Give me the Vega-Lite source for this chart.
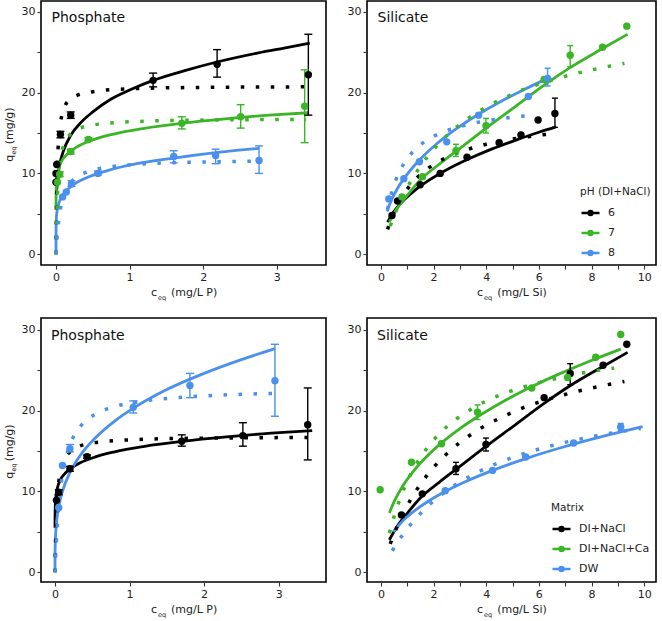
{
"$schema": "https://vega.github.io/schema/vega-lite/v6.json",
"padding": {"left": 2, "top": 0, "right": 2, "bottom": 0},
"datasets": {
"pts": [
{"p":"P1","s":"6","x":0.0,"y":8.9},{"p":"P1","s":"6","x":0.0,"y":10.0},{"p":"P1","s":"6","x":0.01,"y":11.1},
{"p":"P1","s":"6","x":0.06,"y":14.8,"lo":14.4,"hi":15.2},{"p":"P1","s":"6","x":0.2,"y":17.2,"lo":16.8,"hi":17.6},
{"p":"P1","s":"6","x":1.32,"y":21.5,"lo":20.7,"hi":22.4},{"p":"P1","s":"6","x":2.19,"y":23.5,"lo":21.9,"hi":25.3},
{"p":"P1","s":"6","x":3.43,"y":22.2,"lo":17.2,"hi":27.2},
{"p":"P1","s":"7","x":0.02,"y":8.9},{"p":"P1","s":"7","x":0.05,"y":9.9,"lo":9.6,"hi":10.2},
{"p":"P1","s":"7","x":0.2,"y":12.7,"lo":12.4,"hi":13.0},{"p":"P1","s":"7","x":0.44,"y":14.2,"lo":14.0,"hi":14.4},
{"p":"P1","s":"7","x":1.71,"y":16.2,"lo":15.5,"hi":17.0},{"p":"P1","s":"7","x":2.51,"y":17.0,"lo":15.6,"hi":18.5},
{"p":"P1","s":"7","x":3.38,"y":18.3,"lo":13.8,"hi":22.8},
{"p":"P1","s":"8","x":0.09,"y":7.1},{"p":"P1","s":"8","x":0.14,"y":7.7},{"p":"P1","s":"8","x":0.21,"y":8.7,"lo":8.4,"hi":9.1},
{"p":"P1","s":"8","x":0.57,"y":10.0,"lo":9.8,"hi":10.3},{"p":"P1","s":"8","x":1.6,"y":12.1,"lo":11.3,"hi":12.8},
{"p":"P1","s":"8","x":2.17,"y":12.2,"lo":11.2,"hi":13.0},{"p":"P1","s":"8","x":2.76,"y":11.6,"lo":10.0,"hi":13.4},
{"p":"P2","s":"6","x":0.42,"y":4.8},{"p":"P2","s":"6","x":0.63,"y":6.6},{"p":"P2","s":"6","x":1.49,"y":8.6},
{"p":"P2","s":"6","x":2.25,"y":10.0},{"p":"P2","s":"6","x":3.27,"y":12.0},{"p":"P2","s":"6","x":4.49,"y":13.8},
{"p":"P2","s":"6","x":5.32,"y":14.75},{"p":"P2","s":"6","x":5.97,"y":16.6},{"p":"P2","s":"6","x":6.61,"y":17.4,"lo":15.7,"hi":19.3},
{"p":"P2","s":"7","x":0.8,"y":7.1},{"p":"P2","s":"7","x":1.58,"y":9.6},{"p":"P2","s":"7","x":2.85,"y":12.8,"lo":12.1,"hi":13.6},
{"p":"P2","s":"7","x":3.99,"y":15.9,"lo":15.0,"hi":16.8},{"p":"P2","s":"7","x":6.2,"y":21.6},
{"p":"P2","s":"7","x":7.19,"y":24.6,"lo":23.2,"hi":25.8},{"p":"P2","s":"7","x":8.42,"y":25.6},{"p":"P2","s":"7","x":9.34,"y":28.2},
{"p":"P2","s":"8","x":0.3,"y":6.85},{"p":"P2","s":"8","x":0.87,"y":9.35},{"p":"P2","s":"8","x":1.46,"y":11.45},
{"p":"P2","s":"8","x":2.5,"y":13.9},{"p":"P2","s":"8","x":3.71,"y":17.2},{"p":"P2","s":"8","x":5.6,"y":19.5},
{"p":"P2","s":"8","x":6.33,"y":21.75,"lo":20.8,"hi":23.0},
{"p":"P3","s":"DI+NaCl","x":0.02,"y":8.9},{"p":"P3","s":"DI+NaCl","x":0.05,"y":9.9,"lo":9.6,"hi":10.2},
{"p":"P3","s":"DI+NaCl","x":0.2,"y":12.8,"lo":12.5,"hi":13.1},{"p":"P3","s":"DI+NaCl","x":0.43,"y":14.3,"lo":14.1,"hi":14.5},
{"p":"P3","s":"DI+NaCl","x":1.7,"y":16.2,"lo":15.6,"hi":17.0},{"p":"P3","s":"DI+NaCl","x":2.52,"y":16.9,"lo":15.6,"hi":18.5},
{"p":"P3","s":"DI+NaCl","x":3.39,"y":18.25,"lo":13.9,"hi":22.8},
{"p":"P3","s":"DW","x":0.05,"y":8.0},{"p":"P3","s":"DW","x":0.1,"y":13.2},{"p":"P3","s":"DW","x":0.2,"y":15.3,"lo":14.9,"hi":15.8},
{"p":"P3","s":"DW","x":1.05,"y":20.4,"lo":19.7,"hi":21.2},{"p":"P3","s":"DW","x":1.81,"y":23.1,"lo":21.6,"hi":24.6},
{"p":"P3","s":"DW","x":2.95,"y":23.7,"lo":19.3,"hi":28.2},
{"p":"P4","s":"DI+NaCl","x":0.78,"y":7.1},{"p":"P4","s":"DI+NaCl","x":1.57,"y":9.7},{"p":"P4","s":"DI+NaCl","x":2.85,"y":12.8,"lo":12.1,"hi":13.6},
{"p":"P4","s":"DI+NaCl","x":3.99,"y":15.8,"lo":15.0,"hi":16.6},{"p":"P4","s":"DI+NaCl","x":6.2,"y":21.6},
{"p":"P4","s":"DI+NaCl","x":7.19,"y":24.6,"lo":23.2,"hi":25.8},{"p":"P4","s":"DI+NaCl","x":8.44,"y":25.6},{"p":"P4","s":"DI+NaCl","x":9.34,"y":28.2},
{"p":"P4","s":"DI+NaCl+Ca","x":-0.03,"y":10.2},{"p":"P4","s":"DI+NaCl+Ca","x":1.16,"y":13.6},{"p":"P4","s":"DI+NaCl+Ca","x":2.3,"y":15.9},
{"p":"P4","s":"DI+NaCl+Ca","x":3.67,"y":19.8,"lo":18.9,"hi":20.7},{"p":"P4","s":"DI+NaCl+Ca","x":5.73,"y":22.8},
{"p":"P4","s":"DI+NaCl+Ca","x":7.09,"y":24.1},{"p":"P4","s":"DI+NaCl+Ca","x":8.16,"y":26.6},{"p":"P4","s":"DI+NaCl+Ca","x":9.11,"y":29.4},
{"p":"P4","s":"DW","x":2.44,"y":10.1},{"p":"P4","s":"DW","x":4.24,"y":12.6},{"p":"P4","s":"DW","x":5.5,"y":14.25},
{"p":"P4","s":"DW","x":7.32,"y":16.0},{"p":"P4","s":"DW","x":9.11,"y":17.96,"lo":17.5,"hi":18.4}
],
"fits": [
{"p":"P1","s":"6","t":"F","x":0.01,"y":8.0},{"p":"P1","s":"6","t":"F","x":0.02,"y":9.2},{"p":"P1","s":"6","t":"F","x":0.05,"y":11.1},
{"p":"P1","s":"6","t":"F","x":0.1,"y":12.75},{"p":"P1","s":"6","t":"F","x":0.2,"y":14.7},{"p":"P1","s":"6","t":"F","x":0.35,"y":16.4},
{"p":"P1","s":"6","t":"F","x":0.5,"y":17.6},{"p":"P1","s":"6","t":"F","x":0.75,"y":19.2},{"p":"P1","s":"6","t":"F","x":1.0,"y":20.3},
{"p":"P1","s":"6","t":"F","x":1.32,"y":21.5},{"p":"P1","s":"6","t":"F","x":1.75,"y":22.7},{"p":"P1","s":"6","t":"F","x":2.2,"y":23.8},
{"p":"P1","s":"6","t":"F","x":2.75,"y":24.9},{"p":"P1","s":"6","t":"F","x":3.1,"y":25.5},{"p":"P1","s":"6","t":"F","x":3.45,"y":26.1},
{"p":"P1","s":"6","t":"L","x":0,"y":0},{"p":"P1","s":"6","t":"L","x":0.005,"y":4.8},{"p":"P1","s":"6","t":"L","x":0.01,"y":7.8},
{"p":"P1","s":"6","t":"L","x":0.02,"y":11.35},{"p":"P1","s":"6","t":"L","x":0.035,"y":14.1},{"p":"P1","s":"6","t":"L","x":0.05,"y":15.6},
{"p":"P1","s":"6","t":"L","x":0.08,"y":17.2},{"p":"P1","s":"6","t":"L","x":0.12,"y":18.3},{"p":"P1","s":"6","t":"L","x":0.2,"y":19.2},
{"p":"P1","s":"6","t":"L","x":0.3,"y":19.7},{"p":"P1","s":"6","t":"L","x":0.5,"y":20.1},{"p":"P1","s":"6","t":"L","x":1.0,"y":20.46},
{"p":"P1","s":"6","t":"L","x":2.0,"y":20.63},{"p":"P1","s":"6","t":"L","x":3.4,"y":20.7},
{"p":"P1","s":"7","t":"F","x":0.0001,"y":5.5},{"p":"P1","s":"7","t":"F","x":0.0005,"y":6.57},{"p":"P1","s":"7","t":"F","x":0.001,"y":7.1},
{"p":"P1","s":"7","t":"F","x":0.003,"y":8.0},{"p":"P1","s":"7","t":"F","x":0.01,"y":9.16},{"p":"P1","s":"7","t":"F","x":0.03,"y":10.35},
{"p":"P1","s":"7","t":"F","x":0.07,"y":11.4},{"p":"P1","s":"7","t":"F","x":0.15,"y":12.37},{"p":"P1","s":"7","t":"F","x":0.3,"y":13.36},
{"p":"P1","s":"7","t":"F","x":0.5,"y":14.14},{"p":"P1","s":"7","t":"F","x":0.8,"y":14.9},{"p":"P1","s":"7","t":"F","x":1.2,"y":15.58},
{"p":"P1","s":"7","t":"F","x":1.71,"y":16.2},{"p":"P1","s":"7","t":"F","x":2.3,"y":16.75},{"p":"P1","s":"7","t":"F","x":2.9,"y":17.2},
{"p":"P1","s":"7","t":"F","x":3.43,"y":17.5},
{"p":"P1","s":"7","t":"L","x":0,"y":0},{"p":"P1","s":"7","t":"L","x":0.003,"y":1.76},{"p":"P1","s":"7","t":"L","x":0.008,"y":4.0},
{"p":"P1","s":"7","t":"L","x":0.015,"y":6.2},{"p":"P1","s":"7","t":"L","x":0.025,"y":8.3},{"p":"P1","s":"7","t":"L","x":0.04,"y":10.24},
{"p":"P1","s":"7","t":"L","x":0.07,"y":12.3},{"p":"P1","s":"7","t":"L","x":0.12,"y":13.84},{"p":"P1","s":"7","t":"L","x":0.2,"y":14.9},
{"p":"P1","s":"7","t":"L","x":0.3,"y":15.5},{"p":"P1","s":"7","t":"L","x":0.45,"y":15.9},{"p":"P1","s":"7","t":"L","x":0.7,"y":16.2},
{"p":"P1","s":"7","t":"L","x":1.2,"y":16.45},{"p":"P1","s":"7","t":"L","x":2.0,"y":16.59},{"p":"P1","s":"7","t":"L","x":3.4,"y":16.67},
{"p":"P1","s":"8","t":"F","x":0,"y":0},{"p":"P1","s":"8","t":"F","x":0.00001,"y":1.54},{"p":"P1","s":"8","t":"F","x":0.0001,"y":2.28},
{"p":"P1","s":"8","t":"F","x":0.001,"y":3.38},{"p":"P1","s":"8","t":"F","x":0.005,"y":4.44},{"p":"P1","s":"8","t":"F","x":0.015,"y":5.37},
{"p":"P1","s":"8","t":"F","x":0.04,"y":6.35},{"p":"P1","s":"8","t":"F","x":0.09,"y":7.3},{"p":"P1","s":"8","t":"F","x":0.2,"y":8.35},
{"p":"P1","s":"8","t":"F","x":0.4,"y":9.4},{"p":"P1","s":"8","t":"F","x":0.7,"y":10.35},{"p":"P1","s":"8","t":"F","x":1.1,"y":11.2},
{"p":"P1","s":"8","t":"F","x":1.6,"y":11.9},{"p":"P1","s":"8","t":"F","x":2.2,"y":12.6},{"p":"P1","s":"8","t":"F","x":2.76,"y":13.1},
{"p":"P1","s":"8","t":"L","x":0,"y":0},{"p":"P1","s":"8","t":"L","x":0.005,"y":0.82},{"p":"P1","s":"8","t":"L","x":0.012,"y":1.8},
{"p":"P1","s":"8","t":"L","x":0.025,"y":3.2},{"p":"P1","s":"8","t":"L","x":0.04,"y":4.4},{"p":"P1","s":"8","t":"L","x":0.06,"y":5.6},
{"p":"P1","s":"8","t":"L","x":0.09,"y":6.8},{"p":"P1","s":"8","t":"L","x":0.13,"y":7.8},{"p":"P1","s":"8","t":"L","x":0.2,"y":8.85},
{"p":"P1","s":"8","t":"L","x":0.3,"y":9.65},{"p":"P1","s":"8","t":"L","x":0.45,"y":10.28},{"p":"P1","s":"8","t":"L","x":0.7,"y":10.77},
{"p":"P1","s":"8","t":"L","x":1.1,"y":11.13},{"p":"P1","s":"8","t":"L","x":1.6,"y":11.33},{"p":"P1","s":"8","t":"L","x":2.2,"y":11.45},
{"p":"P1","s":"8","t":"L","x":2.75,"y":11.52},
{"p":"P2","s":"6","t":"F","x":0.25,"y":3.97},{"p":"P2","s":"6","t":"F","x":0.4,"y":4.84},{"p":"P2","s":"6","t":"F","x":0.6,"y":5.74},
{"p":"P2","s":"6","t":"F","x":0.9,"y":6.8},{"p":"P2","s":"6","t":"F","x":1.3,"y":7.94},{"p":"P2","s":"6","t":"F","x":1.8,"y":9.1},
{"p":"P2","s":"6","t":"F","x":2.5,"y":10.45},{"p":"P2","s":"6","t":"F","x":3.3,"y":11.74},{"p":"P2","s":"6","t":"F","x":4.2,"y":13.0},
{"p":"P2","s":"6","t":"F","x":5.2,"y":14.2},{"p":"P2","s":"6","t":"F","x":6.0,"y":15.09},{"p":"P2","s":"6","t":"F","x":6.65,"y":15.75},
{"p":"P2","s":"6","t":"L","x":0.25,"y":3.08},{"p":"P2","s":"6","t":"L","x":0.5,"y":5.25},{"p":"P2","s":"6","t":"L","x":0.8,"y":7.12},
{"p":"P2","s":"6","t":"L","x":1.1,"y":8.5},{"p":"P2","s":"6","t":"L","x":1.5,"y":9.86},{"p":"P2","s":"6","t":"L","x":2.0,"y":11.08},
{"p":"P2","s":"6","t":"L","x":2.6,"y":12.12},{"p":"P2","s":"6","t":"L","x":3.3,"y":12.97},{"p":"P2","s":"6","t":"L","x":4.0,"y":13.6},
{"p":"P2","s":"6","t":"L","x":4.8,"y":14.13},{"p":"P2","s":"6","t":"L","x":5.6,"y":14.54},{"p":"P2","s":"6","t":"L","x":6.3,"y":14.83},
{"p":"P2","s":"7","t":"F","x":0.32,"y":4.0},{"p":"P2","s":"7","t":"F","x":0.6,"y":5.6},{"p":"P2","s":"7","t":"F","x":1.0,"y":7.3},
{"p":"P2","s":"7","t":"F","x":1.56,"y":9.4},{"p":"P2","s":"7","t":"F","x":2.2,"y":11.1},{"p":"P2","s":"7","t":"F","x":3.0,"y":13.1},
{"p":"P2","s":"7","t":"F","x":4.0,"y":15.6},{"p":"P2","s":"7","t":"F","x":5.0,"y":18.0},{"p":"P2","s":"7","t":"F","x":6.2,"y":20.9},
{"p":"P2","s":"7","t":"F","x":7.2,"y":23.1},{"p":"P2","s":"7","t":"F","x":8.4,"y":25.4},{"p":"P2","s":"7","t":"F","x":9.37,"y":27.2},
{"p":"P2","s":"7","t":"L","x":0.35,"y":3.5},{"p":"P2","s":"7","t":"L","x":0.55,"y":5.16},{"p":"P2","s":"7","t":"L","x":0.8,"y":6.97},
{"p":"P2","s":"7","t":"L","x":1.1,"y":8.82},{"p":"P2","s":"7","t":"L","x":1.5,"y":10.89},{"p":"P2","s":"7","t":"L","x":2.0,"y":12.97},
{"p":"P2","s":"7","t":"L","x":2.6,"y":14.96},{"p":"P2","s":"7","t":"L","x":3.3,"y":16.77},{"p":"P2","s":"7","t":"L","x":4.0,"y":18.2},
{"p":"P2","s":"7","t":"L","x":4.8,"y":19.5},{"p":"P2","s":"7","t":"L","x":5.6,"y":20.6},{"p":"P2","s":"7","t":"L","x":6.5,"y":21.54},
{"p":"P2","s":"7","t":"L","x":7.4,"y":22.34},{"p":"P2","s":"7","t":"L","x":8.3,"y":23.0},{"p":"P2","s":"7","t":"L","x":9.25,"y":23.6},
{"p":"P2","s":"8","t":"F","x":0.23,"y":5.3},{"p":"P2","s":"8","t":"F","x":0.4,"y":6.71},{"p":"P2","s":"8","t":"F","x":0.65,"y":8.25},
{"p":"P2","s":"8","t":"F","x":1.0,"y":9.91},{"p":"P2","s":"8","t":"F","x":1.5,"y":11.78},{"p":"P2","s":"8","t":"F","x":2.1,"y":13.6},
{"p":"P2","s":"8","t":"F","x":2.8,"y":15.37},{"p":"P2","s":"8","t":"F","x":3.6,"y":17.1},{"p":"P2","s":"8","t":"F","x":4.5,"y":18.8},
{"p":"P2","s":"8","t":"F","x":5.4,"y":20.3},{"p":"P2","s":"8","t":"F","x":6.33,"y":21.75},
{"p":"P2","s":"8","t":"L","x":0.25,"y":5.55},{"p":"P2","s":"8","t":"L","x":0.4,"y":7.55},{"p":"P2","s":"8","t":"L","x":0.55,"y":9.04},
{"p":"P2","s":"8","t":"L","x":0.75,"y":10.5},{"p":"P2","s":"8","t":"L","x":1.0,"y":11.83},{"p":"P2","s":"8","t":"L","x":1.3,"y":12.96},
{"p":"P2","s":"8","t":"L","x":1.7,"y":14.0},{"p":"P2","s":"8","t":"L","x":2.2,"y":14.9},{"p":"P2","s":"8","t":"L","x":2.8,"y":15.6},
{"p":"P2","s":"8","t":"L","x":3.5,"y":16.2},{"p":"P2","s":"8","t":"L","x":4.3,"y":16.65},{"p":"P2","s":"8","t":"L","x":5.1,"y":16.98},
{"p":"P2","s":"8","t":"L","x":5.85,"y":17.2},
{"p":"P3","s":"DI+NaCl","t":"F","x":0.0001,"y":5.5},{"p":"P3","s":"DI+NaCl","t":"F","x":0.0005,"y":6.57},{"p":"P3","s":"DI+NaCl","t":"F","x":0.001,"y":7.1},
{"p":"P3","s":"DI+NaCl","t":"F","x":0.003,"y":8.0},{"p":"P3","s":"DI+NaCl","t":"F","x":0.01,"y":9.16},{"p":"P3","s":"DI+NaCl","t":"F","x":0.03,"y":10.35},
{"p":"P3","s":"DI+NaCl","t":"F","x":0.07,"y":11.4},{"p":"P3","s":"DI+NaCl","t":"F","x":0.15,"y":12.37},{"p":"P3","s":"DI+NaCl","t":"F","x":0.3,"y":13.36},
{"p":"P3","s":"DI+NaCl","t":"F","x":0.5,"y":14.14},{"p":"P3","s":"DI+NaCl","t":"F","x":0.8,"y":14.9},{"p":"P3","s":"DI+NaCl","t":"F","x":1.2,"y":15.58},
{"p":"P3","s":"DI+NaCl","t":"F","x":1.71,"y":16.2},{"p":"P3","s":"DI+NaCl","t":"F","x":2.3,"y":16.75},{"p":"P3","s":"DI+NaCl","t":"F","x":2.9,"y":17.2},
{"p":"P3","s":"DI+NaCl","t":"F","x":3.45,"y":17.52},
{"p":"P3","s":"DI+NaCl","t":"L","x":0,"y":0},{"p":"P3","s":"DI+NaCl","t":"L","x":0.003,"y":1.76},{"p":"P3","s":"DI+NaCl","t":"L","x":0.008,"y":4.0},
{"p":"P3","s":"DI+NaCl","t":"L","x":0.015,"y":6.2},{"p":"P3","s":"DI+NaCl","t":"L","x":0.025,"y":8.3},{"p":"P3","s":"DI+NaCl","t":"L","x":0.04,"y":10.24},
{"p":"P3","s":"DI+NaCl","t":"L","x":0.07,"y":12.3},{"p":"P3","s":"DI+NaCl","t":"L","x":0.12,"y":13.84},{"p":"P3","s":"DI+NaCl","t":"L","x":0.2,"y":14.9},
{"p":"P3","s":"DI+NaCl","t":"L","x":0.3,"y":15.5},{"p":"P3","s":"DI+NaCl","t":"L","x":0.45,"y":15.9},{"p":"P3","s":"DI+NaCl","t":"L","x":0.7,"y":16.2},
{"p":"P3","s":"DI+NaCl","t":"L","x":1.2,"y":16.45},{"p":"P3","s":"DI+NaCl","t":"L","x":2.0,"y":16.59},{"p":"P3","s":"DI+NaCl","t":"L","x":3.45,"y":16.67},
{"p":"P3","s":"DW","t":"F","x":0,"y":0},{"p":"P3","s":"DW","t":"F","x":0.0001,"y":1.26},{"p":"P3","s":"DW","t":"F","x":0.001,"y":2.52},
{"p":"P3","s":"DW","t":"F","x":0.004,"y":3.82},{"p":"P3","s":"DW","t":"F","x":0.01,"y":5.02},{"p":"P3","s":"DW","t":"F","x":0.025,"y":6.62},
{"p":"P3","s":"DW","t":"F","x":0.05,"y":8.14},{"p":"P3","s":"DW","t":"F","x":0.1,"y":10.02},{"p":"P3","s":"DW","t":"F","x":0.2,"y":12.34},
{"p":"P3","s":"DW","t":"F","x":0.35,"y":14.6},{"p":"P3","s":"DW","t":"F","x":0.55,"y":16.7},{"p":"P3","s":"DW","t":"F","x":0.8,"y":18.7},
{"p":"P3","s":"DW","t":"F","x":1.1,"y":20.58},{"p":"P3","s":"DW","t":"F","x":1.5,"y":22.6},{"p":"P3","s":"DW","t":"F","x":2.0,"y":24.6},
{"p":"P3","s":"DW","t":"F","x":2.5,"y":26.3},{"p":"P3","s":"DW","t":"F","x":2.95,"y":27.66},
{"p":"P3","s":"DW","t":"L","x":0,"y":0},{"p":"P3","s":"DW","t":"L","x":0.002,"y":0.5},{"p":"P3","s":"DW","t":"L","x":0.008,"y":1.87},
{"p":"P3","s":"DW","t":"L","x":0.015,"y":3.28},{"p":"P3","s":"DW","t":"L","x":0.025,"y":4.99},{"p":"P3","s":"DW","t":"L","x":0.04,"y":7.05},
{"p":"P3","s":"DW","t":"L","x":0.06,"y":9.16},{"p":"P3","s":"DW","t":"L","x":0.09,"y":11.44},{"p":"P3","s":"DW","t":"L","x":0.13,"y":13.52},
{"p":"P3","s":"DW","t":"L","x":0.19,"y":15.5},{"p":"P3","s":"DW","t":"L","x":0.27,"y":17.15},{"p":"P3","s":"DW","t":"L","x":0.38,"y":18.46},
{"p":"P3","s":"DW","t":"L","x":0.55,"y":19.6},{"p":"P3","s":"DW","t":"L","x":0.8,"y":20.5},{"p":"P3","s":"DW","t":"L","x":1.2,"y":21.2},
{"p":"P3","s":"DW","t":"L","x":1.8,"y":21.7},{"p":"P3","s":"DW","t":"L","x":2.4,"y":21.98},{"p":"P3","s":"DW","t":"L","x":2.95,"y":22.13},
{"p":"P4","s":"DI+NaCl","t":"F","x":0.32,"y":4.0},{"p":"P4","s":"DI+NaCl","t":"F","x":0.6,"y":5.6},{"p":"P4","s":"DI+NaCl","t":"F","x":1.0,"y":7.3},
{"p":"P4","s":"DI+NaCl","t":"F","x":1.56,"y":9.4},{"p":"P4","s":"DI+NaCl","t":"F","x":2.2,"y":11.1},{"p":"P4","s":"DI+NaCl","t":"F","x":3.0,"y":13.1},
{"p":"P4","s":"DI+NaCl","t":"F","x":4.0,"y":15.6},{"p":"P4","s":"DI+NaCl","t":"F","x":5.0,"y":18.0},{"p":"P4","s":"DI+NaCl","t":"F","x":6.2,"y":20.9},
{"p":"P4","s":"DI+NaCl","t":"F","x":7.2,"y":23.1},{"p":"P4","s":"DI+NaCl","t":"F","x":8.4,"y":25.4},{"p":"P4","s":"DI+NaCl","t":"F","x":9.37,"y":27.2},
{"p":"P4","s":"DI+NaCl","t":"L","x":0.35,"y":3.5},{"p":"P4","s":"DI+NaCl","t":"L","x":0.55,"y":5.16},{"p":"P4","s":"DI+NaCl","t":"L","x":0.8,"y":6.97},
{"p":"P4","s":"DI+NaCl","t":"L","x":1.1,"y":8.82},{"p":"P4","s":"DI+NaCl","t":"L","x":1.5,"y":10.89},{"p":"P4","s":"DI+NaCl","t":"L","x":2.0,"y":12.97},
{"p":"P4","s":"DI+NaCl","t":"L","x":2.6,"y":14.96},{"p":"P4","s":"DI+NaCl","t":"L","x":3.3,"y":16.77},{"p":"P4","s":"DI+NaCl","t":"L","x":4.0,"y":18.2},
{"p":"P4","s":"DI+NaCl","t":"L","x":4.8,"y":19.5},{"p":"P4","s":"DI+NaCl","t":"L","x":5.6,"y":20.6},{"p":"P4","s":"DI+NaCl","t":"L","x":6.5,"y":21.54},
{"p":"P4","s":"DI+NaCl","t":"L","x":7.4,"y":22.34},{"p":"P4","s":"DI+NaCl","t":"L","x":8.3,"y":23.0},{"p":"P4","s":"DI+NaCl","t":"L","x":9.25,"y":23.6},
{"p":"P4","s":"DI+NaCl+Ca","t":"F","x":0.32,"y":7.33},{"p":"P4","s":"DI+NaCl+Ca","t":"F","x":0.5,"y":8.74},{"p":"P4","s":"DI+NaCl+Ca","t":"F","x":0.8,"y":10.53},
{"p":"P4","s":"DI+NaCl+Ca","t":"F","x":1.2,"y":12.36},{"p":"P4","s":"DI+NaCl+Ca","t":"F","x":1.7,"y":14.19},{"p":"P4","s":"DI+NaCl+Ca","t":"F","x":2.3,"y":16.0},
{"p":"P4","s":"DI+NaCl+Ca","t":"F","x":3.0,"y":17.77},{"p":"P4","s":"DI+NaCl+Ca","t":"F","x":3.9,"y":19.7},{"p":"P4","s":"DI+NaCl+Ca","t":"F","x":4.8,"y":21.4},
{"p":"P4","s":"DI+NaCl+Ca","t":"F","x":5.8,"y":23.07},{"p":"P4","s":"DI+NaCl+Ca","t":"F","x":6.8,"y":24.57},{"p":"P4","s":"DI+NaCl+Ca","t":"F","x":7.9,"y":26.07},
{"p":"P4","s":"DI+NaCl+Ca","t":"F","x":9.11,"y":27.6},
{"p":"P4","s":"DI+NaCl+Ca","t":"L","x":0.32,"y":4.83},{"p":"P4","s":"DI+NaCl+Ca","t":"L","x":0.5,"y":6.92},{"p":"P4","s":"DI+NaCl+Ca","t":"L","x":0.75,"y":9.31},
{"p":"P4","s":"DI+NaCl+Ca","t":"L","x":1.05,"y":11.6},{"p":"P4","s":"DI+NaCl+Ca","t":"L","x":1.4,"y":13.7},{"p":"P4","s":"DI+NaCl+Ca","t":"L","x":1.8,"y":15.58},
{"p":"P4","s":"DI+NaCl+Ca","t":"L","x":2.3,"y":17.4},{"p":"P4","s":"DI+NaCl+Ca","t":"L","x":2.9,"y":19.05},{"p":"P4","s":"DI+NaCl+Ca","t":"L","x":3.6,"y":20.5},
{"p":"P4","s":"DI+NaCl+Ca","t":"L","x":4.4,"y":21.76},{"p":"P4","s":"DI+NaCl+Ca","t":"L","x":5.3,"y":22.8},{"p":"P4","s":"DI+NaCl+Ca","t":"L","x":6.3,"y":23.7},
{"p":"P4","s":"DI+NaCl+Ca","t":"L","x":7.4,"y":24.5},{"p":"P4","s":"DI+NaCl+Ca","t":"L","x":8.86,"y":25.25},
{"p":"P4","s":"DW","t":"F","x":0.47,"y":5.0},{"p":"P4","s":"DW","t":"F","x":0.8,"y":6.26},{"p":"P4","s":"DW","t":"F","x":1.2,"y":7.42},
{"p":"P4","s":"DW","t":"F","x":1.8,"y":8.79},{"p":"P4","s":"DW","t":"F","x":2.44,"y":9.99},{"p":"P4","s":"DW","t":"F","x":3.2,"y":11.2},
{"p":"P4","s":"DW","t":"F","x":4.2,"y":12.55},{"p":"P4","s":"DW","t":"F","x":5.5,"y":14.06},{"p":"P4","s":"DW","t":"F","x":6.8,"y":15.37},
{"p":"P4","s":"DW","t":"F","x":8.2,"y":16.62},{"p":"P4","s":"DW","t":"F","x":9.94,"y":18.02},
{"p":"P4","s":"DW","t":"L","x":0.43,"y":2.66},{"p":"P4","s":"DW","t":"L","x":0.75,"y":4.29},{"p":"P4","s":"DW","t":"L","x":1.1,"y":5.8},
{"p":"P4","s":"DW","t":"L","x":1.5,"y":7.27},{"p":"P4","s":"DW","t":"L","x":1.9,"y":8.53},{"p":"P4","s":"DW","t":"L","x":2.35,"y":9.73},
{"p":"P4","s":"DW","t":"L","x":2.85,"y":10.86},{"p":"P4","s":"DW","t":"L","x":3.5,"y":12.09},{"p":"P4","s":"DW","t":"L","x":4.3,"y":13.32},
{"p":"P4","s":"DW","t":"L","x":5.2,"y":14.43},{"p":"P4","s":"DW","t":"L","x":6.2,"y":15.42},{"p":"P4","s":"DW","t":"L","x":7.3,"y":16.3},
{"p":"P4","s":"DW","t":"L","x":8.5,"y":17.07},{"p":"P4","s":"DW","t":"L","x":9.87,"y":17.79}
]
},
"columns": 2,
"spacing": {"row": 15, "column": 19},
"resolve": {"scale": {"color": "independent", "x": "independent", "y": "independent"}},
"concat": [
{
"width": 285, "height": 264,
"title": {"text": "Phosphate", "anchor": "start", "frame": "group", "orient": "top", "offset": -34.5, "dx": 10.5, "baseline": "alphabetic"},
"layer": [
{"data": {"name": "fits"}, "transform": [{"filter": "datum.p==='P1' && datum.t==='F'"}],
 "mark": {"type": "line", "strokeWidth": 2.8, "interpolate": "monotone"},
 "encoding": {
  "x": {"field": "x", "type": "quantitative", "scale": {"domain": [-0.204, 3.67], "nice": false, "zero": false},
        "axis": {"values": [0, 1, 2, 3], "title": "c\u00a0\u00a0\u00a0\u00a0(mg/L P)", "titleX": 109.4, "titleY": 30.5, "titleAlign": "left", "titleBaseline": "alphabetic"}},
  "y": {"field": "y", "type": "quantitative", "scale": {"domain": [-1.32, 31.31], "nice": false, "zero": false},
        "axis": {"values": [0, 5, 10, 15, 20, 25, 30], "labelExpr": "datum.value % 10 === 0 ? datum.label : ''", "title": "q\u00a0\u00a0\u00a0(mg/g)", "titleX": -28.8, "titleY": 160.3, "titleAngle": 270, "titleAlign": "left", "titleBaseline": "alphabetic"}},
  "color": {"field": "s", "type": "nominal", "scale": {"domain": ["6", "7", "8"], "range": ["#000000", "#3ab526", "#4a90ec"]}, "legend": null}
 }},
{"data": {"name": "fits"}, "transform": [{"filter": "datum.p==='P1' && datum.t==='L'"}],
 "mark": {"type": "line", "strokeWidth": 3.5, "strokeDash": [3.5, 11.5], "strokeCap": "butt", "interpolate": "monotone"},
 "encoding": {
  "x": {"field": "x", "type": "quantitative", "axis": {"orient": "top", "labels": false, "ticks": false, "title": "eq", "titleX": 116.5, "titleY": 298, "titleAlign": "left", "titleBaseline": "alphabetic", "titleFontSize": 6.5}},
  "y": {"field": "y", "type": "quantitative", "axis": {"orient": "right", "labels": false, "ticks": false, "title": "eq", "titleX": -310.8, "titleY": 153, "titleAngle": 270, "titleAlign": "left", "titleBaseline": "alphabetic", "titleFontSize": 6.5}},
  "color": {"field": "s", "type": "nominal", "legend": null}
 }},
{"data": {"name": "pts"}, "transform": [{"filter": "datum.p==='P1' && isValid(datum.lo)"}],
 "mark": {"type": "rule", "strokeWidth": 1.4},
 "encoding": {"x": {"field": "x", "type": "quantitative", "axis": null}, "y": {"field": "lo", "type": "quantitative", "axis": null}, "y2": {"field": "hi"},
  "color": {"field": "s", "type": "nominal", "legend": null}}},
{"data": {"name": "pts"}, "transform": [{"filter": "datum.p==='P1' && isValid(datum.lo)"}],
 "mark": {"type": "tick", "orient": "horizontal", "size": 8, "thickness": 1.4, "opacity": 1},
 "encoding": {"x": {"field": "x", "type": "quantitative", "axis": null}, "y": {"field": "lo", "type": "quantitative", "axis": null},
  "color": {"field": "s", "type": "nominal", "legend": null}}},
{"data": {"name": "pts"}, "transform": [{"filter": "datum.p==='P1' && isValid(datum.hi)"}],
 "mark": {"type": "tick", "orient": "horizontal", "size": 8, "thickness": 1.4, "opacity": 1},
 "encoding": {"x": {"field": "x", "type": "quantitative", "axis": null}, "y": {"field": "hi", "type": "quantitative", "axis": null},
  "color": {"field": "s", "type": "nominal", "legend": null}}},
{"data": {"name": "pts"}, "transform": [{"filter": "datum.p==='P1'"}],
 "mark": {"type": "circle", "size": 55, "opacity": 1},
 "encoding": {"x": {"field": "x", "type": "quantitative", "axis": null}, "y": {"field": "y", "type": "quantitative", "axis": null},
  "color": {"field": "s", "type": "nominal", "legend": null}}}
],
"resolve": {"axis": {"x": "independent", "y": "independent"}}
},
{
"width": 289, "height": 264,
"title": {"text": "Silicate", "anchor": "start", "frame": "group", "orient": "top", "offset": -34.5, "dx": 10.5, "baseline": "alphabetic"},
"layer": [
{"data": {"name": "fits"}, "transform": [{"filter": "datum.p==='P2' && datum.t==='F'"}],
 "mark": {"type": "line", "strokeWidth": 2.8, "interpolate": "monotone"},
 "encoding": {
  "x": {"field": "x", "type": "quantitative", "scale": {"domain": [-0.53, 10.45], "nice": false, "zero": false},
        "axis": {"values": [0, 1, 2, 3, 4, 5, 6, 7, 8, 9, 10], "labelExpr": "datum.value % 2 === 0 ? datum.label : ''", "title": "c\u00a0\u00a0\u00a0\u00a0(mg/L Si)", "titleX": 109.6, "titleY": 30.5, "titleAlign": "left", "titleBaseline": "alphabetic"}},
  "y": {"field": "y", "type": "quantitative", "scale": {"domain": [-1.32, 31.31], "nice": false, "zero": false},
        "axis": {"values": [0, 5, 10, 15, 20, 25, 30], "labelExpr": "datum.value % 10 === 0 ? datum.label : ''", "title": null}},
  "color": {"field": "s", "type": "nominal", "scale": {"domain": ["6", "7", "8"], "range": ["#000000", "#3ab526", "#4a90ec"]}, "legend": {"title": "pH (DI+NaCl)", "orient": "bottom-right", "offset": 5}}
 }},
{"data": {"name": "fits"}, "transform": [{"filter": "datum.p==='P2' && datum.t==='L'"}],
 "mark": {"type": "line", "strokeWidth": 3.5, "strokeDash": [3.5, 11.5], "strokeCap": "butt", "interpolate": "monotone"},
 "encoding": {
  "x": {"field": "x", "type": "quantitative", "axis": {"orient": "top", "labels": false, "ticks": false, "title": "eq", "titleX": 116.6, "titleY": 298, "titleAlign": "left", "titleBaseline": "alphabetic", "titleFontSize": 6.5}},
  "y": {"field": "y", "type": "quantitative", "axis": null},
  "color": {"field": "s", "type": "nominal"}
 }},
{"data": {"name": "pts"}, "transform": [{"filter": "datum.p==='P2' && isValid(datum.lo)"}],
 "mark": {"type": "rule", "strokeWidth": 1.4},
 "encoding": {"x": {"field": "x", "type": "quantitative", "axis": null}, "y": {"field": "lo", "type": "quantitative", "axis": null}, "y2": {"field": "hi"},
  "color": {"field": "s", "type": "nominal"}}},
{"data": {"name": "pts"}, "transform": [{"filter": "datum.p==='P2' && isValid(datum.lo)"}],
 "mark": {"type": "tick", "orient": "horizontal", "size": 6, "thickness": 1.4, "opacity": 1},
 "encoding": {"x": {"field": "x", "type": "quantitative", "axis": null}, "y": {"field": "lo", "type": "quantitative", "axis": null},
  "color": {"field": "s", "type": "nominal"}}},
{"data": {"name": "pts"}, "transform": [{"filter": "datum.p==='P2' && isValid(datum.hi)"}],
 "mark": {"type": "tick", "orient": "horizontal", "size": 6, "thickness": 1.4, "opacity": 1},
 "encoding": {"x": {"field": "x", "type": "quantitative", "axis": null}, "y": {"field": "hi", "type": "quantitative", "axis": null},
  "color": {"field": "s", "type": "nominal"}}},
{"data": {"name": "pts"}, "transform": [{"filter": "datum.p==='P2'"}],
 "mark": {"type": "circle", "size": 55, "opacity": 1},
 "encoding": {"x": {"field": "x", "type": "quantitative", "axis": null}, "y": {"field": "y", "type": "quantitative", "axis": null},
  "color": {"field": "s", "type": "nominal"}}}
],
"resolve": {"axis": {"x": "independent", "y": "independent"}}
},
{
"width": 285, "height": 264,
"title": {"text": "Phosphate", "anchor": "start", "frame": "group", "orient": "top", "offset": -35.5, "dx": 10, "baseline": "alphabetic"},
"layer": [
{"data": {"name": "fits"}, "transform": [{"filter": "datum.p==='P3' && datum.t==='F'"}],
 "mark": {"type": "line", "strokeWidth": 2.8, "interpolate": "monotone"},
 "encoding": {
  "x": {"field": "x", "type": "quantitative", "scale": {"domain": [-0.188, 3.635], "nice": false, "zero": false},
        "axis": {"values": [0, 1, 2, 3], "title": "c\u00a0\u00a0\u00a0\u00a0(mg/L P)", "titleX": 109.4, "titleY": 30.5, "titleAlign": "left", "titleBaseline": "alphabetic"}},
  "y": {"field": "y", "type": "quantitative", "scale": {"domain": [-1.2, 31.45], "nice": false, "zero": false},
        "axis": {"values": [0, 5, 10, 15, 20, 25, 30], "labelExpr": "datum.value % 10 === 0 ? datum.label : ''", "title": "q\u00a0\u00a0\u00a0(mg/g)", "titleX": -28.8, "titleY": 160.3, "titleAngle": 270, "titleAlign": "left", "titleBaseline": "alphabetic"}},
  "color": {"field": "s", "type": "nominal", "scale": {"domain": ["DI+NaCl", "DI+NaCl+Ca", "DW"], "range": ["#000000", "#3ab526", "#4a90ec"]}, "legend": null}
 }},
{"data": {"name": "fits"}, "transform": [{"filter": "datum.p==='P3' && datum.t==='L'"}],
 "mark": {"type": "line", "strokeWidth": 3.5, "strokeDash": [3.5, 11.5], "strokeCap": "butt", "interpolate": "monotone"},
 "encoding": {
  "x": {"field": "x", "type": "quantitative", "axis": {"orient": "top", "labels": false, "ticks": false, "title": "eq", "titleX": 116.5, "titleY": 298, "titleAlign": "left", "titleBaseline": "alphabetic", "titleFontSize": 6.5}},
  "y": {"field": "y", "type": "quantitative", "axis": {"orient": "right", "labels": false, "ticks": false, "title": "eq", "titleX": -310.8, "titleY": 153, "titleAngle": 270, "titleAlign": "left", "titleBaseline": "alphabetic", "titleFontSize": 6.5}},
  "color": {"field": "s", "type": "nominal", "legend": null}
 }},
{"data": {"name": "pts"}, "transform": [{"filter": "datum.p==='P3' && isValid(datum.lo)"}],
 "mark": {"type": "rule", "strokeWidth": 1.4},
 "encoding": {"x": {"field": "x", "type": "quantitative", "axis": null}, "y": {"field": "lo", "type": "quantitative", "axis": null}, "y2": {"field": "hi"},
  "color": {"field": "s", "type": "nominal", "legend": null}}},
{"data": {"name": "pts"}, "transform": [{"filter": "datum.p==='P3' && isValid(datum.lo)"}],
 "mark": {"type": "tick", "orient": "horizontal", "size": 8, "thickness": 1.4, "opacity": 1},
 "encoding": {"x": {"field": "x", "type": "quantitative", "axis": null}, "y": {"field": "lo", "type": "quantitative", "axis": null},
  "color": {"field": "s", "type": "nominal", "legend": null}}},
{"data": {"name": "pts"}, "transform": [{"filter": "datum.p==='P3' && isValid(datum.hi)"}],
 "mark": {"type": "tick", "orient": "horizontal", "size": 8, "thickness": 1.4, "opacity": 1},
 "encoding": {"x": {"field": "x", "type": "quantitative", "axis": null}, "y": {"field": "hi", "type": "quantitative", "axis": null},
  "color": {"field": "s", "type": "nominal", "legend": null}}},
{"data": {"name": "pts"}, "transform": [{"filter": "datum.p==='P3'"}],
 "mark": {"type": "circle", "size": 55, "opacity": 1},
 "encoding": {"x": {"field": "x", "type": "quantitative", "axis": null}, "y": {"field": "y", "type": "quantitative", "axis": null},
  "color": {"field": "s", "type": "nominal", "legend": null}}}
],
"resolve": {"axis": {"x": "independent", "y": "independent"}}
},
{
"width": 289, "height": 264,
"title": {"text": "Silicate", "anchor": "start", "frame": "group", "orient": "top", "offset": -35.5, "dx": 10, "baseline": "alphabetic"},
"layer": [
{"data": {"name": "fits"}, "transform": [{"filter": "datum.p==='P4' && datum.t==='F'"}],
 "mark": {"type": "line", "strokeWidth": 2.8, "interpolate": "monotone"},
 "encoding": {
  "x": {"field": "x", "type": "quantitative", "scale": {"domain": [-0.53, 10.45], "nice": false, "zero": false},
        "axis": {"values": [0, 1, 2, 3, 4, 5, 6, 7, 8, 9, 10], "labelExpr": "datum.value % 2 === 0 ? datum.label : ''", "title": "c\u00a0\u00a0\u00a0\u00a0(mg/L Si)", "titleX": 109.6, "titleY": 30.5, "titleAlign": "left", "titleBaseline": "alphabetic"}},
  "y": {"field": "y", "type": "quantitative", "scale": {"domain": [-1.2, 31.45], "nice": false, "zero": false},
        "axis": {"values": [0, 5, 10, 15, 20, 25, 30], "labelExpr": "datum.value % 10 === 0 ? datum.label : ''", "title": null}},
  "color": {"field": "s", "type": "nominal", "scale": {"domain": ["DI+NaCl", "DI+NaCl+Ca", "DW"], "range": ["#000000", "#3ab526", "#4a90ec"]}, "legend": {"title": "Matrix", "orient": "bottom-right", "offset": 6}}
 }},
{"data": {"name": "fits"}, "transform": [{"filter": "datum.p==='P4' && datum.t==='L'"}],
 "mark": {"type": "line", "strokeWidth": 3.5, "strokeDash": [3.5, 11.5], "strokeCap": "butt", "interpolate": "monotone"},
 "encoding": {
  "x": {"field": "x", "type": "quantitative", "axis": {"orient": "top", "labels": false, "ticks": false, "title": "eq", "titleX": 116.6, "titleY": 298, "titleAlign": "left", "titleBaseline": "alphabetic", "titleFontSize": 6.5}},
  "y": {"field": "y", "type": "quantitative", "axis": null},
  "color": {"field": "s", "type": "nominal"}
 }},
{"data": {"name": "pts"}, "transform": [{"filter": "datum.p==='P4' && isValid(datum.lo)"}],
 "mark": {"type": "rule", "strokeWidth": 1.4},
 "encoding": {"x": {"field": "x", "type": "quantitative", "axis": null}, "y": {"field": "lo", "type": "quantitative", "axis": null}, "y2": {"field": "hi"},
  "color": {"field": "s", "type": "nominal"}}},
{"data": {"name": "pts"}, "transform": [{"filter": "datum.p==='P4' && isValid(datum.lo)"}],
 "mark": {"type": "tick", "orient": "horizontal", "size": 6, "thickness": 1.4, "opacity": 1},
 "encoding": {"x": {"field": "x", "type": "quantitative", "axis": null}, "y": {"field": "lo", "type": "quantitative", "axis": null},
  "color": {"field": "s", "type": "nominal"}}},
{"data": {"name": "pts"}, "transform": [{"filter": "datum.p==='P4' && isValid(datum.hi)"}],
 "mark": {"type": "tick", "orient": "horizontal", "size": 6, "thickness": 1.4, "opacity": 1},
 "encoding": {"x": {"field": "x", "type": "quantitative", "axis": null}, "y": {"field": "hi", "type": "quantitative", "axis": null},
  "color": {"field": "s", "type": "nominal"}}},
{"data": {"name": "pts"}, "transform": [{"filter": "datum.p==='P4'"}],
 "mark": {"type": "circle", "size": 55, "opacity": 1},
 "encoding": {"x": {"field": "x", "type": "quantitative", "axis": null}, "y": {"field": "y", "type": "quantitative", "axis": null},
  "color": {"field": "s", "type": "nominal"}}}
],
"resolve": {"axis": {"x": "independent", "y": "independent"}}
}
],
"config": {
 "font": "DejaVu Sans",
 "view": {"stroke": "#000000", "strokeWidth": 1.6},
 "axis": {"grid": false, "domain": false, "tickSize": 4, "tickColor": "#333333", "tickWidth": 1.1, "labelFont": "DejaVu Sans", "labelFontSize": 11, "labelColor": "#222222", "labelPadding": 2, "titleFont": "DejaVu Sans", "titleFontSize": 11, "titleFontWeight": "normal", "titleColor": "#222222", "labelFlush": false, "labelOverlap": false},
 "legend": {"titleFont": "DejaVu Sans", "labelFont": "DejaVu Sans", "titleFontSize": 10.5, "titleFontWeight": "normal", "titleColor": "#222222", "labelFontSize": 11, "labelColor": "#222222",
  "symbolType": "M-1,0H1M0.22,0A0.22,0.22 0 1,1 -0.22,0A0.22,0.22 0 1,1 0.22,0Z", "symbolSize": 324, "symbolStrokeWidth": 2.4, "rowPadding": 2, "labelOffset": 7, "titlePadding": 5, "padding": 0},
 "title": {"font": "DejaVu Sans", "fontSize": 14, "fontWeight": "normal", "color": "#111111"}
}
}
